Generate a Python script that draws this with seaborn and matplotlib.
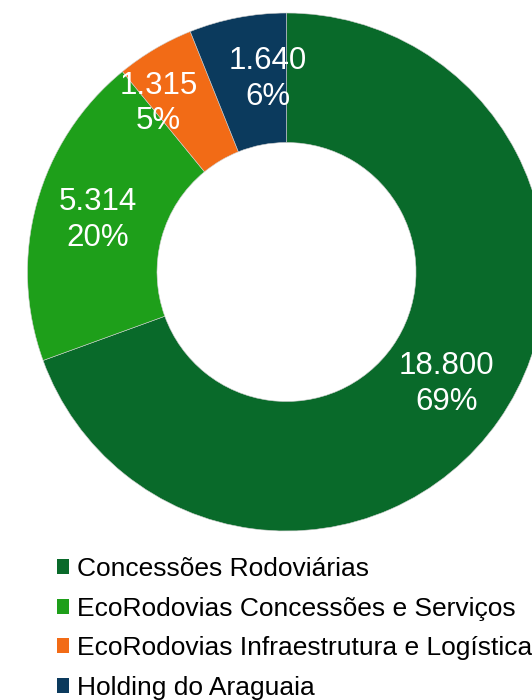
import numpy as np
import matplotlib
matplotlib.use("Agg")
import matplotlib.pyplot as plt
import seaborn as sns
from matplotlib.patches import Patch

categories = ["Concessões Rodoviárias",
              "EcoRodovias Concessões e Serviços",
              "EcoRodovias Infraestrutura e Logística",
              "Holding do Araguaia"]
values = [18800, 5314, 1315, 1640]
colors = ["#096A2A", "#1E9F1A", "#F26B16", "#0B3A5D"]

sns.set_theme(style="white")
plt.rcParams['font.family'] = ['Liberation Sans', 'DejaVu Sans']

W, H = 532, 700
cx, cy, R = 286.5, 272, 259
fig = plt.figure(figsize=(W / 100, H / 100), dpi=100)
ax = fig.add_axes([0, 0, 1, 1])

wedges, _ = ax.pie(values, colors=colors, startangle=90, counterclock=False,
                   radius=1.0, wedgeprops=dict(width=0.5, edgecolor="#d0d0d0", linewidth=0.4))
ax.set_aspect('auto')
ax.set_xlim(-cx / R, (W - cx) / R)
ax.set_ylim(-(H - cy) / R, cy / R)
ax.axis('off')

total = sum(values)
# label nudges (in radius units) to avoid overlap, as in the reference
nudges = [(0, 0), (0, 0), (-0.11, 0.0), (0.07, 0.005)]
for w, v, (nx, ny) in zip(wedges, values, nudges):
    ang = np.deg2rad((w.theta1 + w.theta2) / 2)
    r = 0.755
    x, y = r * np.cos(ang) + nx, r * np.sin(ang) + ny
    txt = f"{v:,}".replace(",", ".") + "\n" + f"{round(100 * v / total)}%"
    ax.text(x, y, txt, ha="center", va="center", color="white",
            fontsize=22.5, linespacing=1.25)

handles = [Patch(facecolor=c, edgecolor="none") for c in colors]
leg = fig.legend(handles, categories, loc="upper left",
                 bbox_to_anchor=(56.5 / W, 1 - 557 / H), frameon=False,
                 fontsize=19, handlelength=0.49, handleheight=0.49,
                 handletextpad=0.3, labelspacing=0.59, borderpad=0,
                 borderaxespad=0)
for t in leg.get_texts():
    t.set_color("black")

fig.savefig("out.png", dpi=100)
